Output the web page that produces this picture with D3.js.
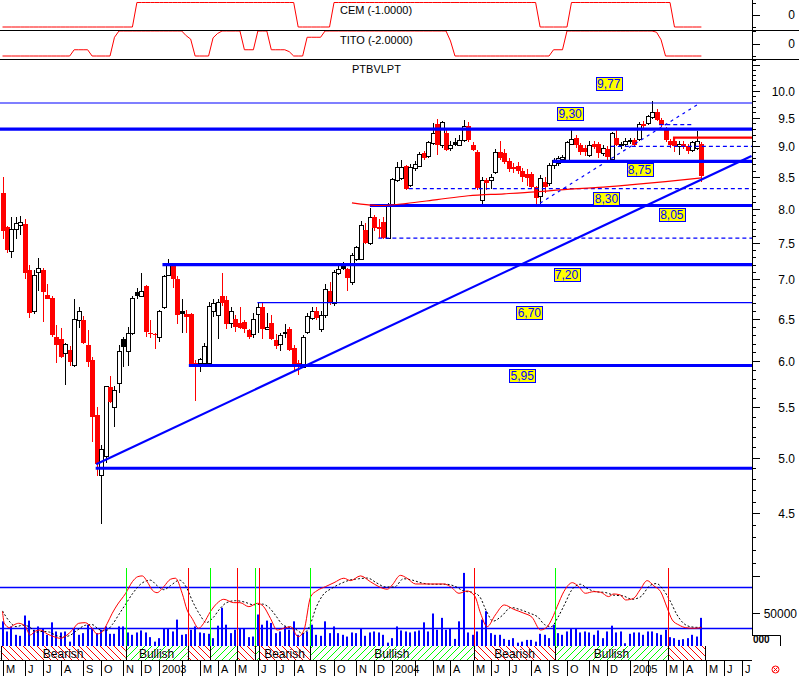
<!DOCTYPE html>
<html><head><meta charset="utf-8">
<script src="https://cdn.jsdelivr.net/npm/d3@7"></script>
<style>
body{margin:0;background:#fff}
svg{display:block}
text{font-family:"Liberation Sans",Arial,sans-serif}
</style></head>
<body><svg id="c" width="799" height="676"></svg>
<script>
// ---------- DATA ----------
// weekly candles [open, high, low, close], first week dated 2002-05-01
const candles = [
[8.24,8.50,7.55,7.67],[7.73,7.75,7.36,7.40],[7.38,7.87,7.29,7.70],[7.70,7.87,7.56,7.79],[7.76,7.89,7.62,7.81],
[7.78,7.85,7.00,7.08],[7.12,7.20,6.51,6.57],[6.60,7.12,6.56,7.06],[7.10,7.29,6.85,7.16],[7.13,7.16,6.46,6.83],
[6.80,6.94,6.74,6.75],[6.76,6.78,6.28,6.30],[6.28,6.42,5.98,6.18],[6.26,6.39,6.04,6.05],[6.09,6.21,5.73,6.20],
[6.13,6.17,5.94,5.99],[5.95,6.74,5.93,6.50],[6.48,6.65,6.39,6.60],[6.49,6.53,6.20,6.21],[6.19,6.36,5.93,5.99],
[6.01,6.05,5.15,5.40],[5.42,5.50,4.83,4.94],[4.84,5.12,4.41,5.08],[5.01,5.72,4.95,5.72],[5.71,5.83,5.54,5.55],
[5.50,5.72,5.30,5.68],[5.76,6.19,5.65,6.11],[6.25,6.28,5.93,6.17],[6.11,6.40,5.94,6.33],[6.33,6.79,6.30,6.76],
[6.83,6.89,6.74,6.80],[6.79,7.08,6.78,6.85],[6.91,6.93,6.28,6.34],[6.33,6.49,6.27,6.31],[6.32,6.33,6.14,6.30],
[6.28,6.61,6.22,6.59],[6.65,7.06,6.62,7.04],[7.06,7.28,7.05,7.21],[7.20,7.22,6.89,7.01],[7.01,7.04,6.44,6.54],
[6.60,6.75,6.33,6.57],[6.56,6.61,6.33,6.52],[6.56,6.57,5.94,5.96],[5.98,6.01,5.56,5.95],[5.98,6.04,5.88,6.02],
[5.98,6.21,5.96,6.17],[5.98,6.71,5.97,6.66],[6.60,6.74,6.52,6.70],[6.55,6.74,6.25,6.71],[6.79,7.08,6.66,6.70],
[6.73,6.78,6.37,6.43],[6.45,6.65,6.39,6.60],[6.50,6.55,6.34,6.40],[6.45,6.65,6.37,6.39],[6.46,6.49,6.33,6.37],
[6.36,6.38,6.25,6.28],[6.31,6.57,6.27,6.50],[6.56,6.71,6.33,6.65],[6.64,6.70,6.26,6.37],[6.38,6.57,6.37,6.40],
[6.45,6.55,6.24,6.25],[6.24,6.31,6.14,6.17],[6.20,6.33,6.11,6.30],[6.34,6.43,6.27,6.33],[6.37,6.40,6.12,6.13],
[6.15,6.18,5.90,5.96],[5.98,6.01,5.84,5.94],[5.93,6.30,5.92,6.28],[6.34,6.57,6.31,6.53],[6.51,6.65,6.49,6.59],
[6.60,6.65,6.49,6.51],[6.38,6.59,6.34,6.54],[6.54,6.94,6.51,6.88],[6.85,6.96,6.67,6.70],[6.69,7.13,6.66,7.10],
[7.09,7.22,7.06,7.14],[7.18,7.24,7.13,7.16],[7.14,7.16,6.85,7.02],[6.96,7.36,6.93,7.33],[7.28,7.45,7.25,7.44],
[7.28,7.82,7.27,7.76],[7.69,7.79,7.49,7.50],[7.50,8.01,7.47,7.87],[7.88,7.91,7.67,7.72],[7.73,7.84,7.57,7.70],
[7.81,7.87,7.56,7.57],[7.57,8.09,7.56,8.06],[8.06,8.48,8.03,8.47],[8.45,8.74,8.42,8.66],[8.48,8.78,8.45,8.66],
[8.68,8.69,8.29,8.31],[8.37,8.70,8.33,8.65],[8.64,8.76,8.60,8.70],[8.68,8.90,8.66,8.87],[8.89,8.93,8.78,8.80],
[8.84,9.10,8.80,9.07],[9.06,9.40,9.02,9.24],[9.39,9.48,8.86,9.03],[9.03,9.45,8.98,9.42],[9.24,9.30,8.92,8.94],
[8.98,9.10,8.93,9.02],[9.08,9.15,9.00,9.04],[9.03,9.20,9.00,9.11],[9.11,9.46,9.08,9.35],[9.35,9.42,9.08,9.11],
[9.03,9.08,8.92,8.94],[8.91,8.94,8.29,8.32],[8.14,8.50,8.08,8.44],[8.44,8.48,8.29,8.40],[8.45,8.55,8.30,8.50],
[8.57,8.96,8.55,8.91],[8.91,9.09,8.78,8.80],[8.89,8.96,8.70,8.74],[8.75,8.80,8.58,8.63],[8.66,8.72,8.56,8.62],
[8.68,8.74,8.55,8.59],[8.60,8.64,8.42,8.49],[8.55,8.63,8.35,8.48],[8.55,8.58,8.31,8.33],[8.33,8.36,8.06,8.16],
[8.19,8.52,8.06,8.48],[8.42,8.50,8.25,8.34],[8.40,8.72,8.36,8.69],[8.69,8.80,8.62,8.77],[8.72,8.84,8.68,8.80],
[8.79,8.86,8.74,8.83],[8.75,9.10,8.72,9.08],[9.05,9.30,9.02,9.12],[9.14,9.20,8.98,9.03],[9.03,9.06,8.86,8.91],
[8.97,9.02,8.84,8.90],[8.86,9.10,8.82,9.03],[9.05,9.10,8.95,8.99],[9.04,9.08,8.80,8.89],[8.89,9.02,8.84,8.97],
[8.96,9.00,8.76,8.82],[8.79,9.25,8.76,9.23],[9.15,9.30,9.00,9.03],[9.02,9.08,8.95,9.05],[9.04,9.14,9.00,9.09],
[9.09,9.14,9.04,9.11],[9.11,9.14,9.00,9.03],[9.13,9.42,9.10,9.39],[9.39,9.45,9.30,9.36],[9.40,9.56,9.38,9.53],
[9.52,9.81,9.48,9.61],[9.61,9.66,9.44,9.47],[9.47,9.50,9.33,9.37],[9.28,9.34,9.08,9.11],[9.09,9.12,8.98,9.03],
[9.09,9.13,8.90,9.00],[9.00,9.10,8.85,9.04],[9.05,9.10,8.95,8.99],[9.01,9.04,8.88,8.93],[8.94,9.10,8.90,9.08],
[8.98,9.26,8.94,9.09],[9.05,9.08,8.41,8.51]
];
const volumes = [
36800,21700,29200,16700,15200,45500,37900,24200,29200,26800,
16700,35300,21700,20200,21700,6500,26800,16700,19200,31800,
26800,19200,24200,29200,18200,18200,29200,29200,20200,16700,
20200,23200,20200,13200,6500,11700,26800,26800,21700,39400,
16700,17700,24200,29200,20200,19200,18200,11700,30300,57100,
31800,19200,24200,25300,26800,13200,14100,47000,31800,37900,
34400,19200,21700,29200,24200,36800,16700,19200,21700,31800,
16700,15200,36800,19200,29200,19200,16700,14100,20200,19200,
26800,15200,20200,21700,20200,16700,5000,11700,29200,
23200,21700,20200,21700,23200,35300,21700,48500,24200,42000,
24200,26800,10600,36800,109100,20200,16700,21700,39400,52000,
19200,16700,16700,10600,9100,11700,5000,6500,9100,9100,
6500,18200,16700,11700,31800,19200,16700,21700,25300,26800,
20200,21700,20200,16700,23200,11700,21700,30300,20200,21700,
4100,18200,20200,20200,16700,21700,21700,19200,16700,24200,
13200,11700,9100,10200,11700,16700,14100,42000
];
const cem = [
-1,-1,-1,-1,-1,-1,-1,-1,-1,-1,-1,-1,-1,-1,-1,-1,-1,-1,-1,-1,-1,-1,-1,-1,-1,-1,-1,-1,-1,-1,
1,1,1,1,1,1,1,1,1,1,1,1,1,1,1,1,1,1,1,1,1,1,1,1,1,1,1,1,1,1,1,1,1,1,1,1,
-1,-1,-1,-1,-1,-1,-1,-1,
1,1,1,1,1,1,1,1,1,1,1,1,1,1,1,1,1,1,1,1,1,1,1,1,1,1,1,1,1,1,1,1,1,1,1,1,1,1,1,1,1,1,1,1,1,1,
-1,-1,-1,-1,-1,-1,-1,
1,1,1,1,1,1,1,1,1,1,1,1,1,1,1,1,1,1,1,1,1,1,1,
-1,-1,-1,-1,-1,-1,-1
];
const tito = [
-2,-2,-2,-2,-2,-2,-2,-2,-2,-2,-2,-2,-2,-2,-2,-2,
-1,-1,-1,-1,
-2,-2,-2,-2,-2,
1,
2,2,2,2,2,2,2,2,2,2,2,2,2,2,2,
1.25,0.7,
-2,-2,-2,-2,
0.9,1.6,
2,2,2,2,2,
-1,-1,-1,
2,2,2,
-1,-1,-1,-1,
-1.3,
-2,-2,-2,
1,1,1,1,
2,2,2,2,2,2,2,2,2,2,2,2,2,2,2,2,2,2,2,2,2,2,2,2,2,2,2,2,
0.4,
-2,-2,-2,-2,-2,-2,-2,-2,-2,-2,-2,-2,-2,-2,-2,-2,-2,-2,-2,-2,-2,-2,
-1,-1,-1,
2,2,2,2,2,2,2,2,2,2,2,2,2,2,2,2,2,2,2,2,
1.8,0.6,
-2,-2,-2,-2,-2,-2,-2,-2,-2
];
// moving average [week index, value]
const maLine = [[78,8.09],[80,8.07],[84,8.05],[90,8.08],[97,8.14],[104,8.20],[112,8.23],[119,8.26],[126,8.30],[133,8.33],[140,8.37],[148,8.42],[156,8.48]];
// oscillator (0..100) [week index, value]
const oscMain = [[0,44],[0.4,27],[1.6,20.5],[2.5,24.4],[3.6,26.9],[5,23],[6.2,9.8],[7.4,15.7],[8.5,17.1],[10,11.3],[11.5,7.3],[12.9,5],[14.4,9.8],[15.6,17.1],[17,26.9],[18.5,27.8],[20,19.6],[21.1,11.3],[22.3,14.6],[23.4,26.9],[24.5,41.6],[25.6,53.7],[27.5,70.8],[29,87.8],[30.2,95.1],[31.2,96.2],[32.3,87.8],[33.4,75.7],[34.5,71.7],[36,80.5],[37.5,91.3],[38.6,92.8],[40.1,70.8],[41.2,46.4],[42.3,34.2],[43.8,19.6],[44.9,26.9],[46.4,43.9],[47.9,56.2],[49.4,62],[51.6,57.1],[53,57.1],[55,51.2],[56.9,56.2],[58.3,51.2],[59.8,34.2],[61.3,17.1],[62.8,19.6],[64.3,22],[66,7.3],[67.3,17.1],[68.8,65.9],[70.2,74.6],[72.1,80.5],[74,86.3],[76.2,92.8],[77.7,89.3],[79.9,96.2],[82.1,87.8],[84,80.5],[85.9,76.7],[87,83],[88.8,97],[90.3,92.8],[92.2,84.4],[95.5,84.4],[98.5,84.4],[100,80.5],[101.9,70.8],[103.7,74.2],[105.4,66.9],[106.7,41.6],[108.2,22],[110,39.1],[112,53.7],[114.1,47.4],[116.4,41.6],[118.2,35.7],[120.1,17.1],[121.6,22],[122.7,34.2],[123.8,51.2],[125.3,73.2],[127.2,86.3],[128.6,80.5],[130.1,70.8],[132,73.2],[133.5,72.3],[135.3,65.9],[136.4,69.8],[137.9,68.3],[139.1,61],[140.9,63.5],[142.3,75.7],[143.9,89.3],[145.4,81.5],[146.9,73.2],[148.4,48.9],[149.5,31.8],[151,24.4],[152.5,20.5],[154.3,19.6],[156,20.5]];
const oscSignal = [[0,45],[1.5,30],[3,22],[4.5,24],[6,22],[7.5,14],[9,15],[10.5,14],[12,9],[13.5,7],[15,9],[16.5,16],[18.5,24],[20,25],[21.5,18],[23,16],[24.5,25],[26,40],[27.5,55],[29,70],[31,85],[33,90],[34.5,82],[36,76],[37.5,82],[39.5,90],[41,80],[42.5,58],[44,40],[45.5,28],[47,35],[48.5,48],[50,57],[52,60],[54,58],[56,54],[58,55],[59.5,50],[61,38],[62.5,25],[64,21],[65.5,18],[67,12],[68.5,22],[70,50],[71.5,68],[73.5,78],[75.5,85],[77.5,90],[79.5,92],[81.5,93],[83.5,86],[85.5,80],[87.5,80],[89.5,92],[91.5,90],[93.5,86],[96,84],[99,84],[101,81],[103,74],[105,72],[106.5,66],[108,45],[109.5,30],[111.5,38],[113.5,50],[115.5,47],[117.5,42],[119.5,36],[121,25],[122.5,22],[124,36],[125.5,55],[127,75],[129,84],[130.5,78],[132.5,73],[134.5,72],[136.5,68],[138.5,67],[140.5,62],[142.5,66],[144.5,82],[146,85],[147.5,76],[149,60],[150.5,40],[152,27],[153.5,22],[155,21],[156,21]];
// trend-change signals: week index + direction
const signalIdx  = [27.5,41.3,46.4,52.4,56.3,57.3,68.6,105.2,123.4,148.5];
const signalType = ['bull','bear','bull','bear','bull','bear','bull','bear','bull','bear'];
const bandStart = -0.4, bandEnd = 156.8;
// support / resistance levels
const levelValues = [9.77, 9.30, 8.75, 8.05, 7.20, 6.70, 5.95, 4.90, 8.31, 7.57, 9.00, 9.38];
const levelFrom   = [-1, -1, 122.8, 82.0, 35.7, 56.9, 41.6, 20.8, 90.7, 83.9, 135.8, 146.6];
const levelTo     = [null,null,null,null,null,null,null,null,null,null,null,154.0];
const levelKind   = ['minor','major','major','major','major','minor','major','major','dash','dash','dash','dash'];
const trendMain = [[20.9,4.936],[167.2,8.839]];
const trendDash = [[120.0,8.086],[155.0,9.734]];
const redLevel = {from:149.9, top:9.15, bottom:9.02};
const tagTexts = ['9,77','9,30','8,75','8,30','8,05','7,20','6,70','5,95'];
const tagIdx   = [135.3,126.7,142.2,134.8,149.4,125.9,117.6,116.0];
const tagVals  = [10.13,9.58,8.61,8.15,7.92,7.07,6.58,5.84];
const monthInitials = ['J','F','M','A','M','J','J','A','S','O','N','D'];
const marketHolidays = ['01-01','05-01','11-01','12-01']; // Lisbon exchange closures (month-day)

// ---------- SCALES ----------
const svg = d3.select('#c');
const BLUE='#0000ff', RED='#ff0000', GREEN='#00ff00';
const x = d3.scaleLinear().domain([0,167.3]).range([2.5,752]);
const y = d3.scaleLog().domain([10,4.5]).range([90.7,513.3]);
const yVol = d3.scaleLinear().domain([0,50000]).range([646,612.5]);
const yOsc = d3.scaleLinear().domain([0,100]).range([641.7,573.3]);
const yCem = d3.scaleLinear().domain([-1,1]).range([27,2.5]);
const yTito = d3.scaleLinear().domain([-2,2]).range([56,31]);

const defs = svg.append('defs');
defs.append('clipPath').attr('id','plot').append('rect').attr('x',0).attr('y',0).attr('width',752).attr('height',676);
const pBear = defs.append('pattern').attr('id','bear').attr('patternUnits','userSpaceOnUse').attr('width',7).attr('height',7);
pBear.append('path').attr('d','M0,0L7,7M-1,6L1,8M6,-1L8,1').attr('stroke',RED).attr('stroke-width',1);
const pBull = defs.append('pattern').attr('id','bull').attr('patternUnits','userSpaceOnUse').attr('width',7).attr('height',7);
pBull.append('path').attr('d','M0,7L7,0M-1,1L1,-1M6,8L8,6').attr('stroke',GREEN).attr('stroke-width',1);

const g = svg.append('g').attr('clip-path','url(#plot)');

// ---------- TOP INDICATOR PANELS ----------
const stepLine = (sc) => d3.line().x((d,i)=>x(i)).y(d=>sc(d));
g.append('path').datum(cem).attr('d',stepLine(yCem)).attr('fill','none').attr('stroke',RED).attr('stroke-width',1);
g.append('path').datum(tito).attr('d',stepLine(yTito)).attr('fill','none').attr('stroke',RED).attr('stroke-width',1);
svg.append('line').attr('x1',0).attr('x2',799).attr('y1',30.5).attr('y2',30.5).attr('stroke','#000');
svg.append('line').attr('x1',0).attr('x2',799).attr('y1',59.5).attr('y2',59.5).attr('stroke','#000');
svg.append('text').attr('x',340).attr('y',14).attr('font-size',11).text('CEM (-1.0000)');
svg.append('text').attr('x',340).attr('y',44).attr('font-size',11).text('TITO (-2.0000)');
svg.append('text').attr('x',352).attr('y',73).attr('font-size',11).text('PTBVLPT');

// ---------- VOLUME / OSCILLATOR PANEL ----------
g.selectAll('rect.vol').data(volumes).join('rect').attr('class','vol')
  .attr('x',(d,i)=>Math.round(x(i))-1).attr('width',2)
  .attr('y',d=>yVol(d)).attr('height',d=>yVol(0)-yVol(d)).attr('fill',BLUE);
[80,20].forEach(v=>g.append('line').attr('x1',0).attr('x2',752).attr('y1',Math.round(yOsc(v))+0.5).attr('y2',Math.round(yOsc(v))+0.5).attr('stroke',BLUE).attr('stroke-width',1.3));
const oscLine = d3.line().x(d=>x(d[0])).y(d=>yOsc(d[1])).curve(d3.curveMonotoneX);
g.append('path').datum(oscSignal).attr('d',oscLine).attr('fill','none').attr('stroke','#000').attr('stroke-width',1).attr('stroke-dasharray','2,2');
g.append('path').datum(oscMain).attr('d',oscLine).attr('fill','none').attr('stroke',RED).attr('stroke-width',1);
signalIdx.forEach((s,k)=>{
  const xx=Math.round(x(s))+0.5;
  g.append('line').attr('x1',xx).attr('x2',xx).attr('y1',568).attr('y2',646).attr('stroke',signalType[k]==='bull'?GREEN:RED);
});
// sentiment band
const bounds=[bandStart,...signalIdx,bandEnd];
for(let k=0;k<bounds.length-1;k++){
  const type = k===0?'bear':signalType[k-1];
  const x0=x(bounds[k]), x1=x(bounds[k+1]);
  g.append('rect').attr('x',x0).attr('y',646).attr('width',x1-x0).attr('height',14).attr('fill',`url(#${type})`);
  if(x1-x0>45) g.append('text').attr('x',(x0+x1)/2).attr('y',657.5).attr('text-anchor','middle').attr('font-size',12).attr('fill','#000').text(type==='bear'?'Bearish':'Bullish');
}
bounds.forEach(b=>{const xx=Math.round(x(b))+0.5; g.append('line').attr('x1',xx).attr('x2',xx).attr('y1',646).attr('y2',660).attr('stroke','#000');});
svg.append('line').attr('x1',0).attr('x2',752).attr('y1',660.5).attr('y2',660.5).attr('stroke','#000');

// ---------- MONTH AXIS (tick at the week holding the first trading day) ----------
const firstWeek = new Date(2002,4,1);
const monthTicks=[];
for(let m=new Date(2002,4,1); m<=new Date(2005,6,1); m=new Date(m.getFullYear(),m.getMonth()+1,1)){
  let d=new Date(m);
  const md = dd => d3.timeFormat('%m-%d')(dd);
  while(d.getDay()===0 || d.getDay()===6 || marketHolidays.includes(md(d))) d=d3.timeDay.offset(d,1);
  const i = Math.round(d3.timeDay.count(firstWeek,d)/7);
  monthTicks.push({i, m});
}
monthTicks.forEach(t=>{
  const xx=Math.round(x(t.i))+0.5;
  svg.append('line').attr('x1',xx).attr('x2',xx).attr('y1',661).attr('y2',676).attr('stroke','#000');
  const mo=t.m.getMonth();
  const lab = mo===0 ? String(t.m.getFullYear()) : (mo===1 ? '' : monthInitials[mo]);
  if(lab) svg.append('text').attr('x',xx+2.5).attr('y',673).attr('font-size',11).text(lab);
});

// ---------- MAIN PRICE PANEL ----------
const cg = g.append('g').attr('shape-rendering','crispEdges');
candles.forEach((c,i)=>{
  const [o,h,l,cl]=c;
  const cx=Math.round(x(i));
  const prev = i>0?candles[i-1][3]:o;
  const up = cl>=o;
  const kind = up?'hollow':(cl>prev?'black':'red');
  const col = kind==='red'?RED:'#000';
  cg.append('line').attr('x1',cx+0.5).attr('x2',cx+0.5).attr('y1',y(h)).attr('y2',y(l)).attr('stroke',col).attr('stroke-width',1);
  const top=Math.round(y(Math.max(o,cl))), bot=Math.round(y(Math.min(o,cl)));
  if(kind==='red'){
    cg.append('rect').attr('x',cx-2).attr('y',top).attr('width',5).attr('height',Math.max(1,bot-top)).attr('fill',RED);
  } else {
    cg.append('rect').attr('x',cx-1.5).attr('y',top+0.5).attr('width',4).attr('height',Math.max(1,bot-top))
      .attr('fill',kind==='black'?'#000':'#fff').attr('stroke','#000').attr('stroke-width',1);
  }
});
// levels
levelValues.forEach((v,k)=>{
  const kind=levelKind[k];
  const x0=x(levelFrom[k]), x1= levelTo[k]==null?752:x(levelTo[k]);
  const yy = y(v);
  const ln=g.append('line').attr('x1',x0).attr('x2',x1).attr('y1',yy).attr('y2',yy).attr('stroke',BLUE);
  if(kind==='major') ln.attr('stroke-width',3.2);
  else if(kind==='minor') ln.attr('stroke-width',1.2);
  else ln.attr('stroke-width',1.2).attr('stroke-dasharray','4,3');
});
// moving average
g.append('path').datum(maLine).attr('d',d3.line().x(d=>x(d[0])).y(d=>y(d[1])).curve(d3.curveMonotoneX))
  .attr('fill','none').attr('stroke',RED).attr('stroke-width',1.2);
// trend lines
g.append('line').attr('x1',x(trendMain[0][0])).attr('y1',y(trendMain[0][1])).attr('x2',x(trendMain[1][0])).attr('y2',y(trendMain[1][1]))
  .attr('stroke',BLUE).attr('stroke-width',2.2);
g.append('line').attr('x1',x(trendDash[0][0])).attr('y1',y(trendDash[0][1])).attr('x2',x(trendDash[1][0])).attr('y2',y(trendDash[1][1]))
  .attr('stroke',BLUE).attr('stroke-width',1.2).attr('stroke-dasharray','3,4');
// red resistance bracket
g.append('path').attr('d',`M${x(redLevel.from)},${y(redLevel.bottom)}V${y(redLevel.top)}H752`)
  .attr('fill','none').attr('stroke',RED).attr('stroke-width',2.2);
// tags
tagTexts.forEach((t,k)=>{
  const cx=x(tagIdx[k]), cy=y(tagVals[k]);
  g.append('rect').attr('x',Math.round(cx-13)+0.5).attr('y',Math.round(cy-6.5)+0.5).attr('width',26).attr('height',13)
    .attr('fill','#ffff00').attr('stroke',BLUE).attr('stroke-width',1);
  g.append('text').attr('x',cx).attr('y',cy+4.5).attr('text-anchor','middle').attr('font-size',12).attr('fill',BLUE).text(t);
});

// ---------- RIGHT AXIS ----------
svg.append('line').attr('x1',752.5).attr('x2',752.5).attr('y1',0).attr('y2',635).attr('stroke','#000');
const ticks = d3.range(40,107).map(v=>v/10);
ticks.forEach(v=>{
  const major = Math.abs(v*2-Math.round(v*2))<1e-6;
  const yy=Math.round(y(v))+0.5;
  svg.append('line').attr('x1',752).attr('x2',major?760:756).attr('y1',yy).attr('y2',yy).attr('stroke','#000');
  if(major && v>=4.5 && v<=10) svg.append('text').attr('x',795).attr('y',yy+4.5).attr('text-anchor','end').attr('font-size',12).text(v.toFixed(1));
});
[[yCem,[-1,0,1]],[yTito,[-2,0,2]]].forEach(([sc,vals])=>{
  vals.forEach(v=>{const yy=Math.round(sc(v))+0.5; svg.append('line').attr('x1',752).attr('x2',v===0?760:756).attr('y1',yy).attr('y2',yy).attr('stroke','#000');});
  svg.append('text').attr('x',795).attr('y',sc(0)+4.5).attr('text-anchor','end').attr('font-size',12).text('0');
});
{
  const yy=Math.round(yVol(50000))+0.5;
  svg.append('line').attr('x1',752).attr('x2',760).attr('y1',yy).attr('y2',yy).attr('stroke','#000');
  svg.append('text').attr('x',797).attr('y',yy+4.5).attr('text-anchor','end').attr('font-size',12).text('50000');
}
svg.append('path').attr('d','M752,635.5H780.5V646').attr('fill','none').attr('stroke','#000');
svg.append('text').attr('x',753).attr('y',643).attr('font-size',10).attr('font-weight','bold').text('000');
// status glyph
svg.append('circle').attr('cx',775.5).attr('cy',669.5).attr('r',3.5).attr('fill','none').attr('stroke',RED);
svg.append('path').attr('d','M773.5,667.5L777.5,671.5M777.5,667.5L773.5,671.5').attr('stroke',RED);
</script>
</body></html>
